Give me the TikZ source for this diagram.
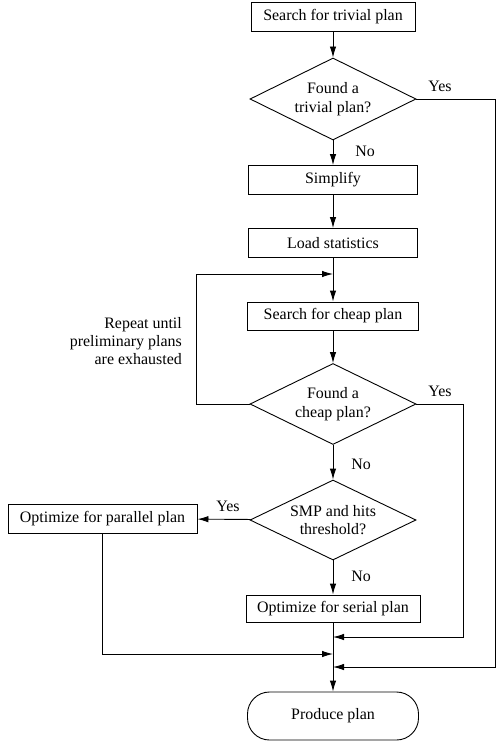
\documentclass[tikz,border=0pt]{standalone}
\usepackage{fontspec}
\setmainfont{Liberation Serif}
\usetikzlibrary{shapes.geometric,arrows.meta}
\begin{document}
\begin{tikzpicture}[x=1bp,y=-1bp,
  every node/.style={font=\fontsize{16}{18.5}\selectfont},
  line/.style={line width=0.9bp},
  arr/.style={line width=0.9bp,-{Latex[length=11bp,width=6.5bp]}},
  box/.style={draw,line width=0.9bp,rectangle,inner sep=0pt,minimum height=29bp},
  dec/.style={draw,line width=0.9bp,diamond,aspect=2,inner sep=0pt,minimum width=166bp,minimum height=82bp,align=center},
  term/.style={draw,line width=0.9bp,rectangle,rounded corners=22bp,inner sep=0pt,minimum width=171bp,minimum height=48bp},
  lbl/.style={inner sep=0pt}]
\useasboundingbox (0,0) rectangle (500,745);
\node[box,minimum width=164bp] (b1) at (333,17) {Search for trivial plan};
\node[dec] (d1) at (333,99) {Found a\\trivial plan?};
\node[box,minimum width=169bp] (simp) at (333,180) {Simplify};
\node[box,minimum width=169bp] (load) at (333,243) {Load statistics};
\node[box,minimum width=171bp,minimum height=28bp] (cheap) at (333,316) {Search for cheap plan};
\node[dec,minimum height=81bp] (d2) at (333,404) {Found a\\cheap plan?};
\node[dec,minimum height=80bp] (d3) at (333,520) {SMP and hits\\threshold?};
\node[box,minimum width=189bp] (par) at (102.5,518.5) {Optimize for parallel plan};
\node[box,minimum width=174bp,minimum height=27bp] (ser) at (333,608.5) {Optimize for serial plan};
\node[term] (prod) at (333,716) {Produce plan};
\node[lbl,align=right,anchor=east] (rep) at (182,341) {Repeat until\\preliminary plans\\are exhausted};
\node[lbl] (y1) at (440,86) {Yes};
\node[lbl] (y2) at (440,391) {Yes};
\node[lbl] (y3) at (228,506) {Yes};
\node[lbl] (n1) at (365,151) {No};
\node[lbl] (n2) at (361,464) {No};
\node[lbl] (n3) at (361,576) {No};
\coordinate (m1) at (333,274);
\coordinate (cl) at (196,404);
\coordinate (clt) at (196,274);
\coordinate (c1) at (495,99);
\coordinate (c1b) at (495,667);
\coordinate (j3) at (333,667);
\coordinate (c2) at (463,404);
\coordinate (c2b) at (463,637);
\coordinate (j1) at (333,637);
\coordinate (pb) at (100,654);
\coordinate (j2) at (333,654);
\draw[arr] (b1) -- (d1);
\draw[arr] (d1) -- (simp);
\draw[arr] (simp) -- (load);
\draw[arr] (load) -- (cheap);
\draw[arr] (cheap) -- (d2);
\draw[arr] (d2) -- (d3);
\draw[arr] (d3) -- (ser);
\draw[arr] (d3) -- (par);
\draw[arr] (ser) -- (prod);
\draw[arr] (d2.west) -- (cl) -- (clt) -- (m1);
\draw[arr] (d1.east) -- (c1) -- (c1b) -- (j3);
\draw[arr] (d2.east) -- (c2) -- (c2b) -- (j1);
\draw[arr] (par.south) -- (par.south |- pb) -- (j2);
\end{tikzpicture}
\end{document}
